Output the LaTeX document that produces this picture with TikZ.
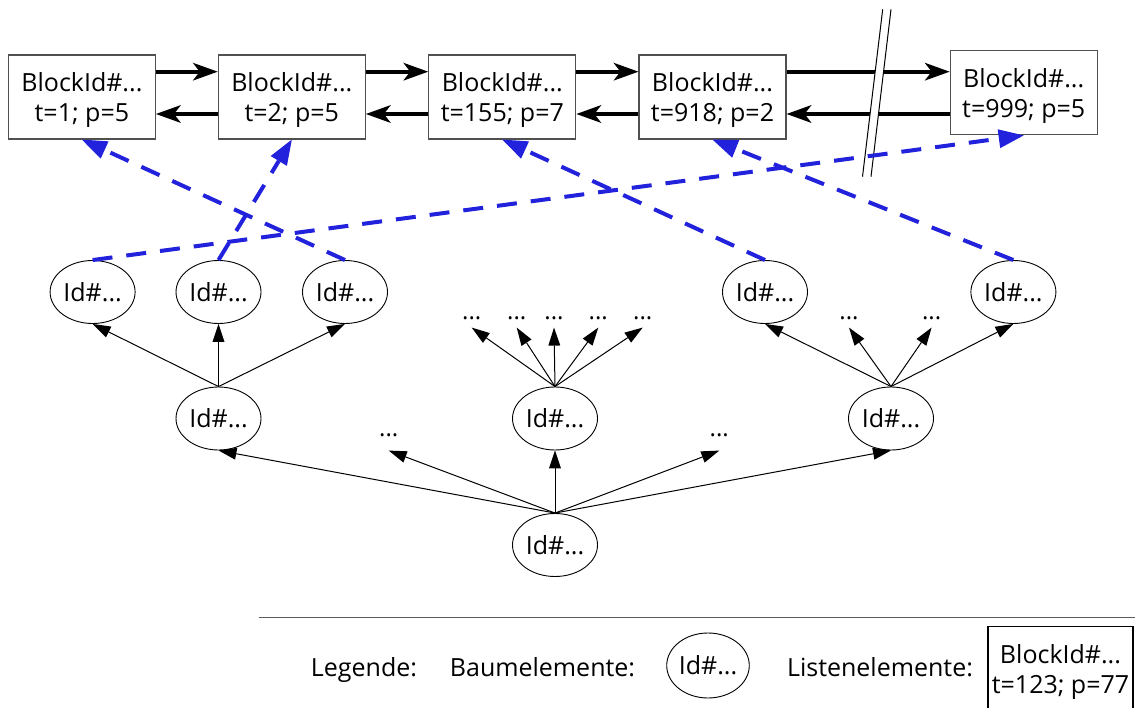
\documentclass[tikz,border=0pt]{standalone}
\usepackage{fontspec}
\setmainfont{Open Sans}
\usetikzlibrary{arrows.meta,shapes.geometric}
\definecolor{linkblue}{RGB}{34,34,220}
\definecolor{boxgray}{RGB}{80,80,80}
\definecolor{sepgray}{RGB}{90,90,90}
\begin{document}
\begin{tikzpicture}[x=1pt,y=-1pt,
  listbox/.style={draw=boxgray, line width=1.2pt, fill=white, minimum width=147pt, minimum height=84pt,
    inner sep=0pt, align=center, text depth=0pt, font=\fontsize{25}{30}\selectfont},
  treenode/.style={draw, ellipse, line width=0.9pt, fill=white, minimum width=85pt, minimum height=63pt,
    inner sep=0pt, font=\fontsize{25}{30}\selectfont},
  dotsnode/.style={inner sep=0pt, outer sep=8pt, font=\fontsize{24}{28}\selectfont},
  listarrow/.style={line width=4pt, -{Stealth[length=25pt,width=18pt,inset=7pt,line width=0pt]}},
  treearrow/.style={line width=1pt, -{Triangle[length=18pt,width=12pt,line width=0pt]}},
  linkarrow/.style={linkblue, line width=4pt, dash pattern=on 20pt off 14pt,
    -{Triangle[length=25pt,width=19pt,line width=0pt]}},
  lab/.style={font=\fontsize{25}{30}\selectfont, anchor=base, inner sep=0pt},
  breakline/.style={line width=1pt}
]
\useasboundingbox (0,0) rectangle (1135,708);

% list elements
\node[listbox] (b1) at (81.9,97)   {BlockId\#...\\t=1; p=5};
\node[listbox] (b2) at (291.8,97)  {BlockId\#...\\t=2; p=5};
\node[listbox] (b3) at (502.3,97)  {BlockId\#...\\t=155; p=7};
\node[listbox] (b4) at (712.5,97)  {BlockId\#...\\t=918; p=2};
\node[listbox] (b5) at (1023.7,92.8) {BlockId\#...\\t=999; p=5};

% list arrows
\draw[listarrow] ([yshift=25.3pt]b1.east) -- ([yshift=25.3pt]b2.west);
\draw[listarrow] ([yshift=25.3pt]b2.east) -- ([yshift=25.3pt]b3.west);
\draw[listarrow] ([yshift=25.3pt]b3.east) -- ([yshift=25.3pt]b4.west);
\draw[listarrow] ([yshift=25.3pt]b4.east) -- ([yshift=21.1pt]b5.west);
\draw[listarrow] ([yshift=-17pt]b2.west) -- ([yshift=-17pt]b1.east);
\draw[listarrow] ([yshift=-17pt]b3.west) -- ([yshift=-17pt]b2.east);
\draw[listarrow] ([yshift=-17pt]b4.west) -- ([yshift=-17pt]b3.east);
\draw[listarrow] ([yshift=-21.2pt]b5.west) -- ([yshift=-17pt]b4.east);

% break mark
\fill[white] (882.7,9.3) -- (891,9.3) -- (871,176.7) -- (862.5,176.7) -- cycle;
\draw[breakline] (882.7,9.3) -- (862.5,176.7);
\draw[breakline] (891,9.3) -- (871,176.7);

% tree nodes
\node[treenode] (l1) at (92.6,292)  {Id\#...};
\node[treenode] (l2) at (218.5,292) {Id\#...};
\node[treenode] (l3) at (345,292)   {Id\#...};
\node[treenode] (l4) at (765,292)   {Id\#...};
\node[treenode] (l5) at (1013.4,292) {Id\#...};
\node[treenode] (m1) at (218.5,418.5) {Id\#...};
\node[treenode] (m2) at (555,418.5)   {Id\#...};
\node[treenode] (m3) at (891,418.5)   {Id\#...};
\node[treenode] (r)  at (555,545)     {Id\#...};

\node[dotsnode] (d1) at (471.7,318) {...};
\node[dotsnode] (d2) at (516.7,318) {...};
\node[dotsnode] (d3) at (554,318)   {...};
\node[dotsnode] (d4) at (598.3,318) {...};
\node[dotsnode] (d5) at (642.7,318) {...};
\node[dotsnode] (e1) at (849,318)   {...};
\node[dotsnode] (e2) at (931.6,318) {...};
\node[dotsnode, outer sep=14pt] (f1) at (388.7,435) {...};
\node[dotsnode, outer sep=14pt] (f2) at (719.3,435) {...};

% tree arrows
\foreach \c in {l1,l2,l3} \draw[treearrow] (m1.north) -- (\c.south);
\foreach \c in {d1,d2,d3,d4,d5} \draw[treearrow] (m2.north) -- (\c.south);
\foreach \c in {l4,e1,e2,l5} \draw[treearrow] (m3.north) -- (\c.south);
\foreach \c in {m1,f1,m2,f2,m3} \draw[treearrow] (r.north) -- (\c.south);

% links tree -> list
\draw[linkarrow] (l3.north) -- (b1.south);
\draw[linkarrow] (l2.north) -- (b2.south);
\draw[linkarrow] (l1.north) -- (b5.south);
\draw[linkarrow] (l4.north) -- (b3.south);
\draw[linkarrow] (l5.north) -- (b4.south);

% legend
\coordinate (sepA) at (258.5,617.3);
\coordinate (sepB) at (1135,617.3);
\draw[sepgray, line width=1.5pt] (sepA) -- (sepB);
\node[lab] (lg) at (364,676) {Legende:};
\node[lab] (lbaum) at (542.5,676) {Baumelemente:};
\node[treenode, minimum width=80pt, minimum height=65pt] (lt) at (708,665.5) {Id\#...};
\node[lab] (llist) at (880,676) {Listenelemente:};
\node[listbox, minimum width=145pt, draw=black] (lb) at (1060.5,668.7) {BlockId\#...\\t=123; p=77};
\end{tikzpicture}
\end{document}
